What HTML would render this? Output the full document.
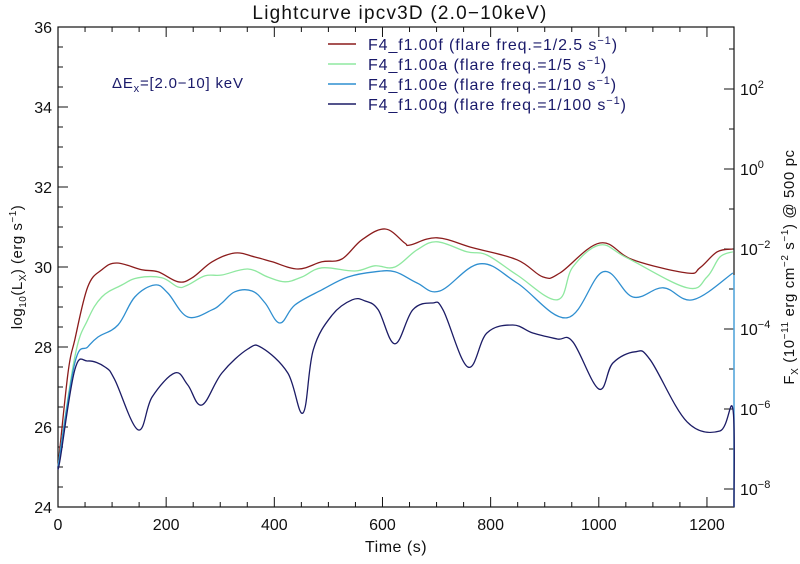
<!DOCTYPE html>
<html><head><meta charset="utf-8"><style>
body{margin:0;background:#fff;}
svg text{font-family:"Liberation Sans",sans-serif;fill:#111;}
</style></head><body>
<svg id="chart" width="800" height="559" viewBox="0 0 800 559" xmlns="http://www.w3.org/2000/svg">
<text x="400" y="19" text-anchor="middle" font-size="19" letter-spacing="1.2">Lightcurve ipcv3D (2.0−10keV)</text>
<text x="112" y="88" font-size="15" letter-spacing="0.8" style="fill:#1a1a6a">ΔE<tspan font-size="11" dy="4">x</tspan><tspan dy="-4">=[2.0−10] keV</tspan></text>
<text x="396" y="552" text-anchor="middle" font-size="16" letter-spacing="0.5">Time (s)</text>
<text transform="translate(22,267) rotate(-90)" text-anchor="middle" font-size="15" letter-spacing="0.5">log<tspan font-size="10" dy="4">10</tspan><tspan dy="-4">(L</tspan><tspan font-size="10" dy="4">X</tspan><tspan dy="-4">) (erg s</tspan><tspan font-size="10" dy="-6">−1</tspan><tspan dy="6">)</tspan></text>
<text transform="translate(794,267) rotate(-90)" text-anchor="middle" font-size="15" letter-spacing="0.6">F<tspan font-size="10" dy="4">X</tspan><tspan dy="-4"> (10</tspan><tspan font-size="10" dy="-6">−11</tspan><tspan dy="6"> erg cm</tspan><tspan font-size="10" dy="-6">−2</tspan><tspan dy="6"> s</tspan><tspan font-size="10" dy="-6">−1</tspan><tspan dy="6">) @ 500 pc</tspan></text>
<g id="axes"></g>
<g id="series"></g>
<g id="legend"></g>
</svg>
<script>
const times = {
 f:[0,18.5,31,55,81,109,155,185,222,248,285,327,364,396,444,488,525,562,605,641,651,701,767,849,897,928,1002,1063,1163,1187,1219,1248],
 a:[0,31,55,81,118,148,192,222,240,272,303,351,388,420,451,488,549,586,623,664,701,756,793,849,923,952,1002,1052,1163,1200,1224,1248],
 e:[0,31,55,74,111,142,179,203,240,285,303,327,359,383,410,438,488,536,586,623,664,706,780,849,941,1008,1063,1119,1174,1248],
 g:[0,4,31,55,87,105,148,174,216,240,266,303,351,377,425,453,472,507,544,568,592,623,656,692,712,758,793,841,878,923,952,1000,1026,1067,1095,1163,1224,1248,1250]
};
const valsF=[25.0,27.35,28.18,29.5,29.93,30.1,29.93,29.88,29.63,29.73,30.13,30.35,30.25,30.13,29.95,30.13,30.2,30.68,30.95,30.6,30.55,30.73,30.48,30.18,29.75,29.85,30.6,30.18,29.85,29.98,30.38,30.45];
const valsA=[25.0,27.75,28.68,29.25,29.55,29.73,29.73,29.5,29.55,29.78,29.8,29.95,29.75,29.63,29.75,29.98,29.9,30.03,30.0,30.43,30.63,30.38,30.3,29.8,29.18,30.0,30.55,30.23,29.48,29.75,30.25,30.38];
const valsE=[25.0,27.6,28.0,28.25,28.55,29.25,29.55,29.35,28.75,28.93,29.1,29.38,29.4,29.1,28.6,29.05,29.43,29.75,29.88,29.88,29.6,29.4,30.08,29.6,28.73,29.88,29.25,29.48,29.18,29.85];
const valsG=[25.0,25.2,27.43,27.65,27.5,27.18,25.93,26.75,27.35,27.05,26.55,27.35,27.95,27.98,27.35,26.35,27.93,28.8,29.18,29.15,28.93,28.08,28.93,29.1,28.93,27.5,28.35,28.55,28.35,28.2,28.13,26.95,27.6,27.88,27.68,26.13,25.9,26.45,24.0];
const seriesNames=["F4_f1.00f (flare freq.=1/2.5 s","F4_f1.00a (flare freq.=1/5 s","F4_f1.00e (flare freq.=1/10 s","F4_f1.00g (flare freq.=1/100 s"];
const xTicks=[0,200,400,600,800,1000,1200];
const yTicks=[24,26,28,30,32,34,36];
const rExp=[2,0,-2,-4,-6,-8];

const X0=58,X1=734,Y0=507,Y1=27;
const xs=t=>X0+(t/1250)*(X1-X0);
const ys=v=>Y0-(v-24)/12*(Y0-Y1);
const yr=e=>249-(e+2)*40;
const NS="http://www.w3.org/2000/svg";
function mk(tag,attrs,parent){const el=document.createElementNS(NS,tag);for(const k in attrs)el.setAttribute(k,attrs[k]);parent.appendChild(el);return el;}
const axes=document.getElementById('axes');
const frame=mk('rect',{x:X0,y:Y1,width:X1-X0,height:Y0-Y1,fill:'none',stroke:'#111','stroke-width':1.2},axes);


for(let t=0;t<=1250;t+=50){
 const big=t%200===0, L=big?10:5;
 const a=mk('line',{x1:xs(t),x2:xs(t),y1:Y0,y2:Y0-L,stroke:'#111'},axes);
 
 
 const b=mk('line',{x1:xs(t),x2:xs(t),y1:Y1,y2:Y1+L,stroke:'#111'},axes);
 
 
}
xTicks.forEach(t=>{const tx=mk('text',{x:xs(t),y:530,'text-anchor':'middle','font-size':16},axes);tx.textContent=t;
 
 });
for(let v=24;v<=36.001;v+=0.5){
 const big=Math.abs(v%2)<1e-6;
 const a=mk('line',{x1:X0,x2:X0+(big?10:5),y1:ys(v),y2:ys(v),stroke:'#111'},axes);
 
 
}
yTicks.forEach(v=>{const tx=mk('text',{x:52,y:ys(v)+6,'text-anchor':'end','font-size':16},axes);tx.textContent=v;
 
 });
for(let e=3;e>=-9;e--){
 const y=yr(e); if(y<Y1||y>Y0)continue;
 const big=e%2===0;
 const a=mk('line',{x1:X1,x2:X1-(big?10:5),y1:y,y2:y,stroke:'#111'},axes);
 
 
}
rExp.forEach(e=>{const tx=mk('text',{x:740,y:yr(e)+6,'font-size':16},axes);
 
 
 tx.innerHTML='10<tspan font-size="11" dy="-7">'+(e<0?'−'+(-e):e)+'</tspan>';});
const colors=['#8b1c1c','#8fe8a0','#2f8fd0','#1c1c66'];
const keys=['f','a','e','g'];
const vals=[valsF,valsA,valsE,valsG];
const sg=document.getElementById('series');
const edge=mk('line',{x1:X1,x2:X1,y1:ys(29.8),y2:Y0,stroke:'#5ab0e8','stroke-width':1.5},sg);


function smoothPath(P){
 let d='M'+P[0][0].toFixed(1)+','+P[0][1].toFixed(1);
 const k=0.18;
 for(let i=0;i<P.length-1;i++){
  const p0=P[Math.max(0,i-1)],p1=P[i],p2=P[i+1],p3=P[Math.min(P.length-1,i+2)];
  const c1=[p1[0]+(p2[0]-p0[0])*k,p1[1]+(p2[1]-p0[1])*k];
  const c2=[p2[0]-(p3[0]-p1[0])*k,p2[1]-(p3[1]-p1[1])*k];
  d+=' C'+c1[0].toFixed(1)+','+c1[1].toFixed(1)+' '+c2[0].toFixed(1)+','+c2[1].toFixed(1)+' '+p2[0].toFixed(1)+','+p2[1].toFixed(1);
 }
 return d;
}
vals.forEach((v,i)=>{
 const t=times[keys[i]];
 const P=v.map((y,j)=>[xs(t[j]),ys(y)]);
 const p=mk('path',{d:smoothPath(P),fill:'none',stroke:colors[i],'stroke-width':1.3,'stroke-linejoin':'round'},sg);
 
 
});
const lg=document.getElementById('legend');
seriesNames.forEach((n,i)=>{
 const y=50+i*20;
 const l=mk('line',{x1:328,x2:356,y1:y-6,y2:y-6,stroke:colors[i],'stroke-width':1.5},lg);
 
 
 const tx=mk('text',{x:368,y:y,'font-size':16,'letter-spacing':0.9},lg);
 
 
 tx.style.fill='#1a1a6a';
 tx.innerHTML=n+'<tspan font-size="11" dy="-6">−1</tspan><tspan dy="6">)</tspan>';
});
</script>
</body></html>
